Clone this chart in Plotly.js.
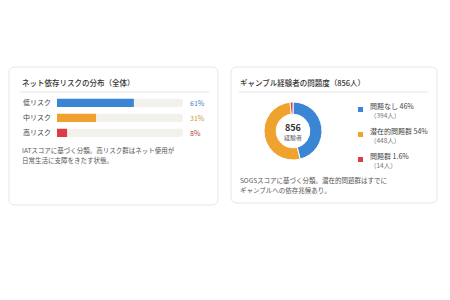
<!DOCTYPE html>
<html>
<head>
<meta charset="utf-8">
<script src="https://cdn.plot.ly/plotly-3.0.1.min.js"></script>
<style>html,body{margin:0;padding:0;background:#fff;}#chart{width:450px;height:300px;}</style>
</head>
<body>
<div id="chart"></div>
<script>
// ---- data ----
const riskCategories = ['低リスク', '中リスク', '高リスク'];
const riskValues = [61, 31, 8];
const riskColors = ['#3a86d4', '#f0a22e', '#dc3d44'];
const riskLabelColors = ['#3f86cc', '#cf9a3e', '#b4433f'];

const gambleLabels = ['問題なし', '潜在的問題群', '問題群'];
const gamblePercents = ['46', '54', '1.6'];
const gambleCounts = [394, 448, 14];
const gambleColors = ['#3a86d4', '#f0a22e', '#dc3d44'];
const gambleTotal = 856;

const leftTitle = 'ネット依存リスクの分布（全体）';
const leftNotes = ['IATスコアに基づく分類。高リスク群はネット使用が', '日常生活に支障をきたす状態。'];
const rightTitle = 'ギャンブル経験者の問題度（856人）';
const rightNotes = ['SOGSスコアに基づく分類。潜在的問題群はすでに', 'ギャンブルへの依存兆候あり。'];

// ---- helpers (pixel -> paper) ----
const W = 450, H = 300;
const px = x => x / W;
const py = y => 1 - y / H;
const FONT = '"Noto Sans CJK JP", "Noto Sans", sans-serif';

function roundRect(x0, y0, x1, y1, r) {
  const P = (x, y) => px(x) + ',' + py(y);
  return 'M' + P(x0 + r, y0) + ' L' + P(x1 - r, y0) + ' Q' + P(x1, y0) + ' ' + P(x1, y0 + r) +
    ' L' + P(x1, y1 - r) + ' Q' + P(x1, y1) + ' ' + P(x1 - r, y1) +
    ' L' + P(x0 + r, y1) + ' Q' + P(x0, y1) + ' ' + P(x0, y1 - r) +
    ' L' + P(x0, y0 + r) + ' Q' + P(x0, y0) + ' ' + P(x0 + r, y0) + ' Z';
}

function txt(x, y, text, opts) {
  opts = opts || {};
  return Object.assign({
    xref: 'paper', yref: 'paper', x: px(x), y: py(y), text: text, showarrow: false,
    xanchor: 'left', yanchor: 'middle',
    font: {family: FONT, size: 7, color: '#444'}
  }, opts);
}

// ---- traces ----
const track = {
  type: 'bar', orientation: 'h', y: riskCategories, x: riskCategories.map(() => 100),
  marker: {color: '#f3f1eb', cornerradius: 3}, width: 0.55, hoverinfo: 'skip', xaxis: 'x', yaxis: 'y'
};
const bars = {
  type: 'bar', orientation: 'h', y: riskCategories, x: riskValues,
  marker: {color: riskColors, cornerradius: 3}, width: 0.55, xaxis: 'x', yaxis: 'y'
};
const donut = {
  type: 'pie', values: gambleCounts, labels: gambleLabels, sort: false, direction: 'clockwise',
  rotation: 0, hole: 0.58, textinfo: 'none', showlegend: false,
  marker: {colors: gambleColors, line: {color: '#ffffff', width: 1}},
  domain: {x: [px(264), px(322)], y: [py(160), py(102)]}
};

// ---- shapes ----
const shapes = [
  {type: 'path', xref: 'paper', yref: 'paper', path: roundRect(9, 67, 218, 205, 6), fillcolor: '#ffffff', line: {color: '#e6e6e6', width: 1}, layer: 'below'},
  {type: 'path', xref: 'paper', yref: 'paper', path: roundRect(231, 67, 437, 203, 6), fillcolor: '#ffffff', line: {color: '#e6e6e6', width: 1}, layer: 'below'},
  {type: 'line', xref: 'paper', yref: 'paper', x0: px(20), x1: px(209), y0: py(92), y1: py(92), line: {color: '#e6e6e6', width: 1}},
  {type: 'line', xref: 'paper', yref: 'paper', x0: px(239), x1: px(428), y0: py(92), y1: py(92), line: {color: '#e6e6e6', width: 1}}
];

// ---- annotations ----
const annotations = [
  txt(20, 83, leftTitle, {font: {family: FONT, size: 7.5, color: '#333', weight: 500}}),
  txt(238, 83, rightTitle, {font: {family: FONT, size: 7.5, color: '#333', weight: 500}}),
  txt(20, 150, leftNotes[0], {font: {family: FONT, size: 6.5, color: '#555'}}),
  txt(20, 160, leftNotes[1], {font: {family: FONT, size: 6.5, color: '#555'}}),
  txt(238, 180, rightNotes[0], {font: {family: FONT, size: 6.5, color: '#555'}}),
  txt(238, 190, rightNotes[1], {font: {family: FONT, size: 6.5, color: '#555'}}),
  txt(293, 127, String(gambleTotal), {xanchor: 'center', font: {family: FONT, size: 9, color: '#333', weight: 'bold'}}),
  txt(293, 137, '経験者', {xanchor: 'center', font: {family: FONT, size: 6, color: '#666'}})
];
riskCategories.forEach((c, i) => {
  annotations.push({xref: 'paper', yref: 'y', x: px(188), y: c, text: riskValues[i] + '%', showarrow: false,
    xanchor: 'left', yanchor: 'middle', font: {family: FONT, size: 7, color: riskLabelColors[i]}});
});
const legendY = [106, 131, 156];
gambleLabels.forEach((l, i) => {
  const y = legendY[i];
  shapes.push({type: 'rect', xref: 'paper', yref: 'paper', x0: px(358), x1: px(363), y0: py(y + 1), y1: py(y + 6),
    fillcolor: gambleColors[i], line: {width: 0}});
  annotations.push(txt(368, y, l + ' ' + gamblePercents[i] + '%', {font: {family: FONT, size: 7, color: '#444'}}));
  annotations.push(txt(368, y + 9, '（' + gambleCounts[i] + '人）', {font: {family: FONT, size: 6.5, color: '#777'}}));
});

const layout = {
  width: W, height: H, margin: {l: 0, r: 0, t: 0, b: 0},
  paper_bgcolor: '#ffffff', plot_bgcolor: 'rgba(0,0,0,0)',
  showlegend: false, barmode: 'overlay',
  xaxis: {domain: [px(57), px(183)], range: [0, 100], visible: false, fixedrange: true},
  yaxis: {domain: [py(140.5), py(95.5)], type: 'category', range: [2.5, -0.5], showgrid: false, zeroline: false,
    ticks: '', ticklabelstandoff: 5, tickfont: {family: FONT, size: 7, color: '#444'}, showline: false},
  shapes: shapes, annotations: annotations
};

Plotly.newPlot('chart', [track, bars, donut], layout, {displayModeBar: false, staticPlot: true});
</script>
</body>
</html>
